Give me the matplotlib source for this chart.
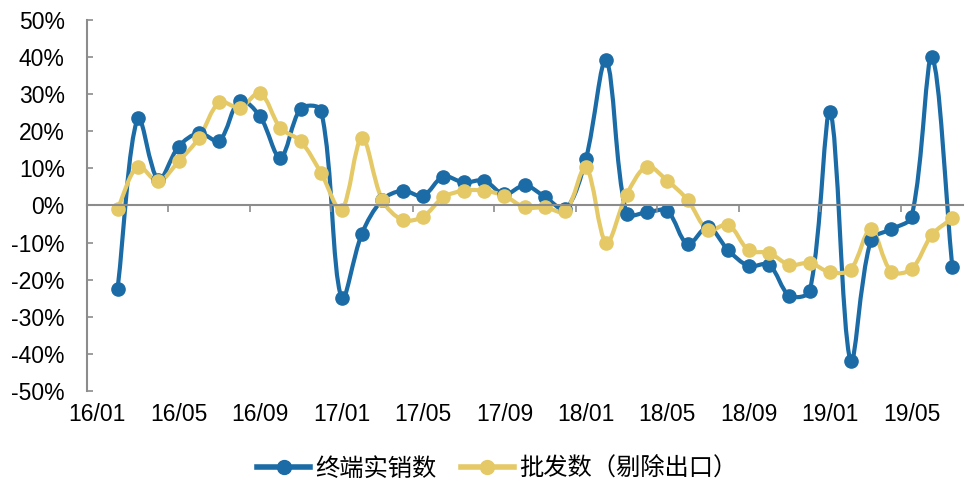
import numpy as np
import matplotlib
matplotlib.use('Agg')
import matplotlib.pyplot as plt
from matplotlib.path import Path
from matplotlib.patches import PathPatch
from matplotlib.lines import Line2D

plt.rcParams['font.family'] = ['Liberation Sans', 'Noto Sans CJK SC', 'DejaVu Sans']

# 月度同比增速（%），2016/01 - 2019/07，首月无数据
retail = [np.nan, -22.5, 23.7, 6.9, 15.9, 19.5, 17.5, 28.3, 24.0, 12.9, 26.1, 25.6,
          -25.0, -7.6, 1.5, 4.0, 2.6, 7.8, 6.2, 6.7, 3.0, 5.4, 2.3, -1.0,
          12.5, 39.1, -2.2, -1.8, -1.5, -10.4, -5.8, -12.1, -16.3, -16.0, -24.3, -23.0,
          25.1, -42.0, -9.4, -6.4, -3.0, 39.9, -16.7]
wholesale = [np.nan, -0.9, 10.5, 6.5, 11.9, 18.2, 27.8, 26.4, 30.3, 20.9, 17.3, 8.7,
             -1.2, 18.2, 1.5, -3.9, -3.0, 2.2, 4.0, 4.0, 2.6, -0.5, -0.5, -1.6,
             10.3, -10.0, 2.9, 10.5, 6.7, 1.5, -6.6, -5.2, -12.1, -12.8, -16.0, -15.5,
             -18.0, -17.3, -6.4, -17.8, -17.1, -7.9, -3.4]
tick_labels = ['16/01', '16/05', '16/09', '17/01', '17/05', '17/09',
               '18/01', '18/05', '18/09', '19/01', '19/05']
series_names = ['终端实销数', '批发数（剔除出口）']

blue = '#1B6BA6'
yellow = '#E5C966'
gray = '#8C8C8C'


def smooth_path(ax, x, y):
    # 分段三次贝塞尔曲线，切线按屏幕上相邻弦长分配，减少过冲
    pts = ax.transData.transform(np.column_stack([x, y]))
    n = len(pts)
    seg = np.hypot(*np.diff(pts, axis=0).T)
    out_c, in_c = [], []
    for i in range(n):
        p_prev = pts[i - 1] if i > 0 else pts[i]
        p_next = pts[i + 1] if i < n - 1 else pts[i]
        t = p_next - p_prev
        d1 = seg[i - 1] if i > 0 else 0.0
        d2 = seg[i] if i < n - 1 else 0.0
        tot = d1 + d2 if d1 + d2 > 0 else 1.0
        out_c.append(pts[i] + t * d2 / tot / 3)
        in_c.append(pts[i] - t * d1 / tot / 3)
    verts = [pts[0]]
    codes = [Path.MOVETO]
    for i in range(n - 1):
        verts += [out_c[i], in_c[i + 1], pts[i + 1]]
        codes += [Path.CURVE4] * 3
    inv = ax.transData.inverted()
    return Path(inv.transform(np.array(verts)), codes)


fig = plt.figure(figsize=(9.69, 4.83), dpi=100)
ax = fig.add_axes([0.0898, 0.1905, 0.9035, 0.7681])
ax.set_xlim(-0.5, len(retail) - 0.5)
ax.set_ylim(-50, 50)

idx = np.arange(len(retail))
for vals, color in [(retail, blue), (wholesale, yellow)]:
    v = np.array(vals)
    ok = ~np.isnan(v)
    xs, ys = idx[ok], v[ok]
    ax.add_patch(PathPatch(smooth_path(ax, xs, ys), fill=False, edgecolor=color,
                           lw=3.0, capstyle='round', joinstyle='round'))
    ax.plot(xs, ys, 'o', color=color, ms=9.5, mec=color)

ax.set_yticks(np.arange(-50, 51, 10))
ax.set_yticklabels([f'{t}%' for t in range(-50, 51, 10)])
ax.tick_params(axis='y', direction='in', length=4.5, width=1.2, color=gray,
               pad=16, labelsize=16.5)

for s in ['top', 'right']:
    ax.spines[s].set_visible(False)
ax.spines['left'].set_color(gray)
ax.spines['left'].set_linewidth(1.5)
ax.spines['bottom'].set_position(('data', 0))
ax.spines['bottom'].set_color(gray)
ax.spines['bottom'].set_linewidth(1.5)

# 零轴上的刻度在类别边界处，每 4 个月一个
ax.set_xticks(np.arange(3.5, len(retail) - 1, 4))
ax.tick_params(axis='x', direction='out', length=5, width=1.2, color=gray,
               labelbottom=False)

sec = ax.secondary_xaxis('bottom')
sec.set_xticks(np.arange(0, len(retail), 4), tick_labels)
sec.tick_params(length=0, pad=9, labelsize=16.5)
sec.spines['bottom'].set_visible(False)

handles = [Line2D([], [], color=c, lw=4, marker='o', ms=10) for c in (blue, yellow)]
fig.legend(handles, series_names, loc='center', bbox_to_anchor=(0.513, 0.03),
           ncol=2, frameon=False, prop={'family': 'Noto Sans CJK SC', 'size': 17.5},
           handlelength=2.2, handletextpad=0.2, columnspacing=1.0)

fig.savefig('out.png', dpi=100)
